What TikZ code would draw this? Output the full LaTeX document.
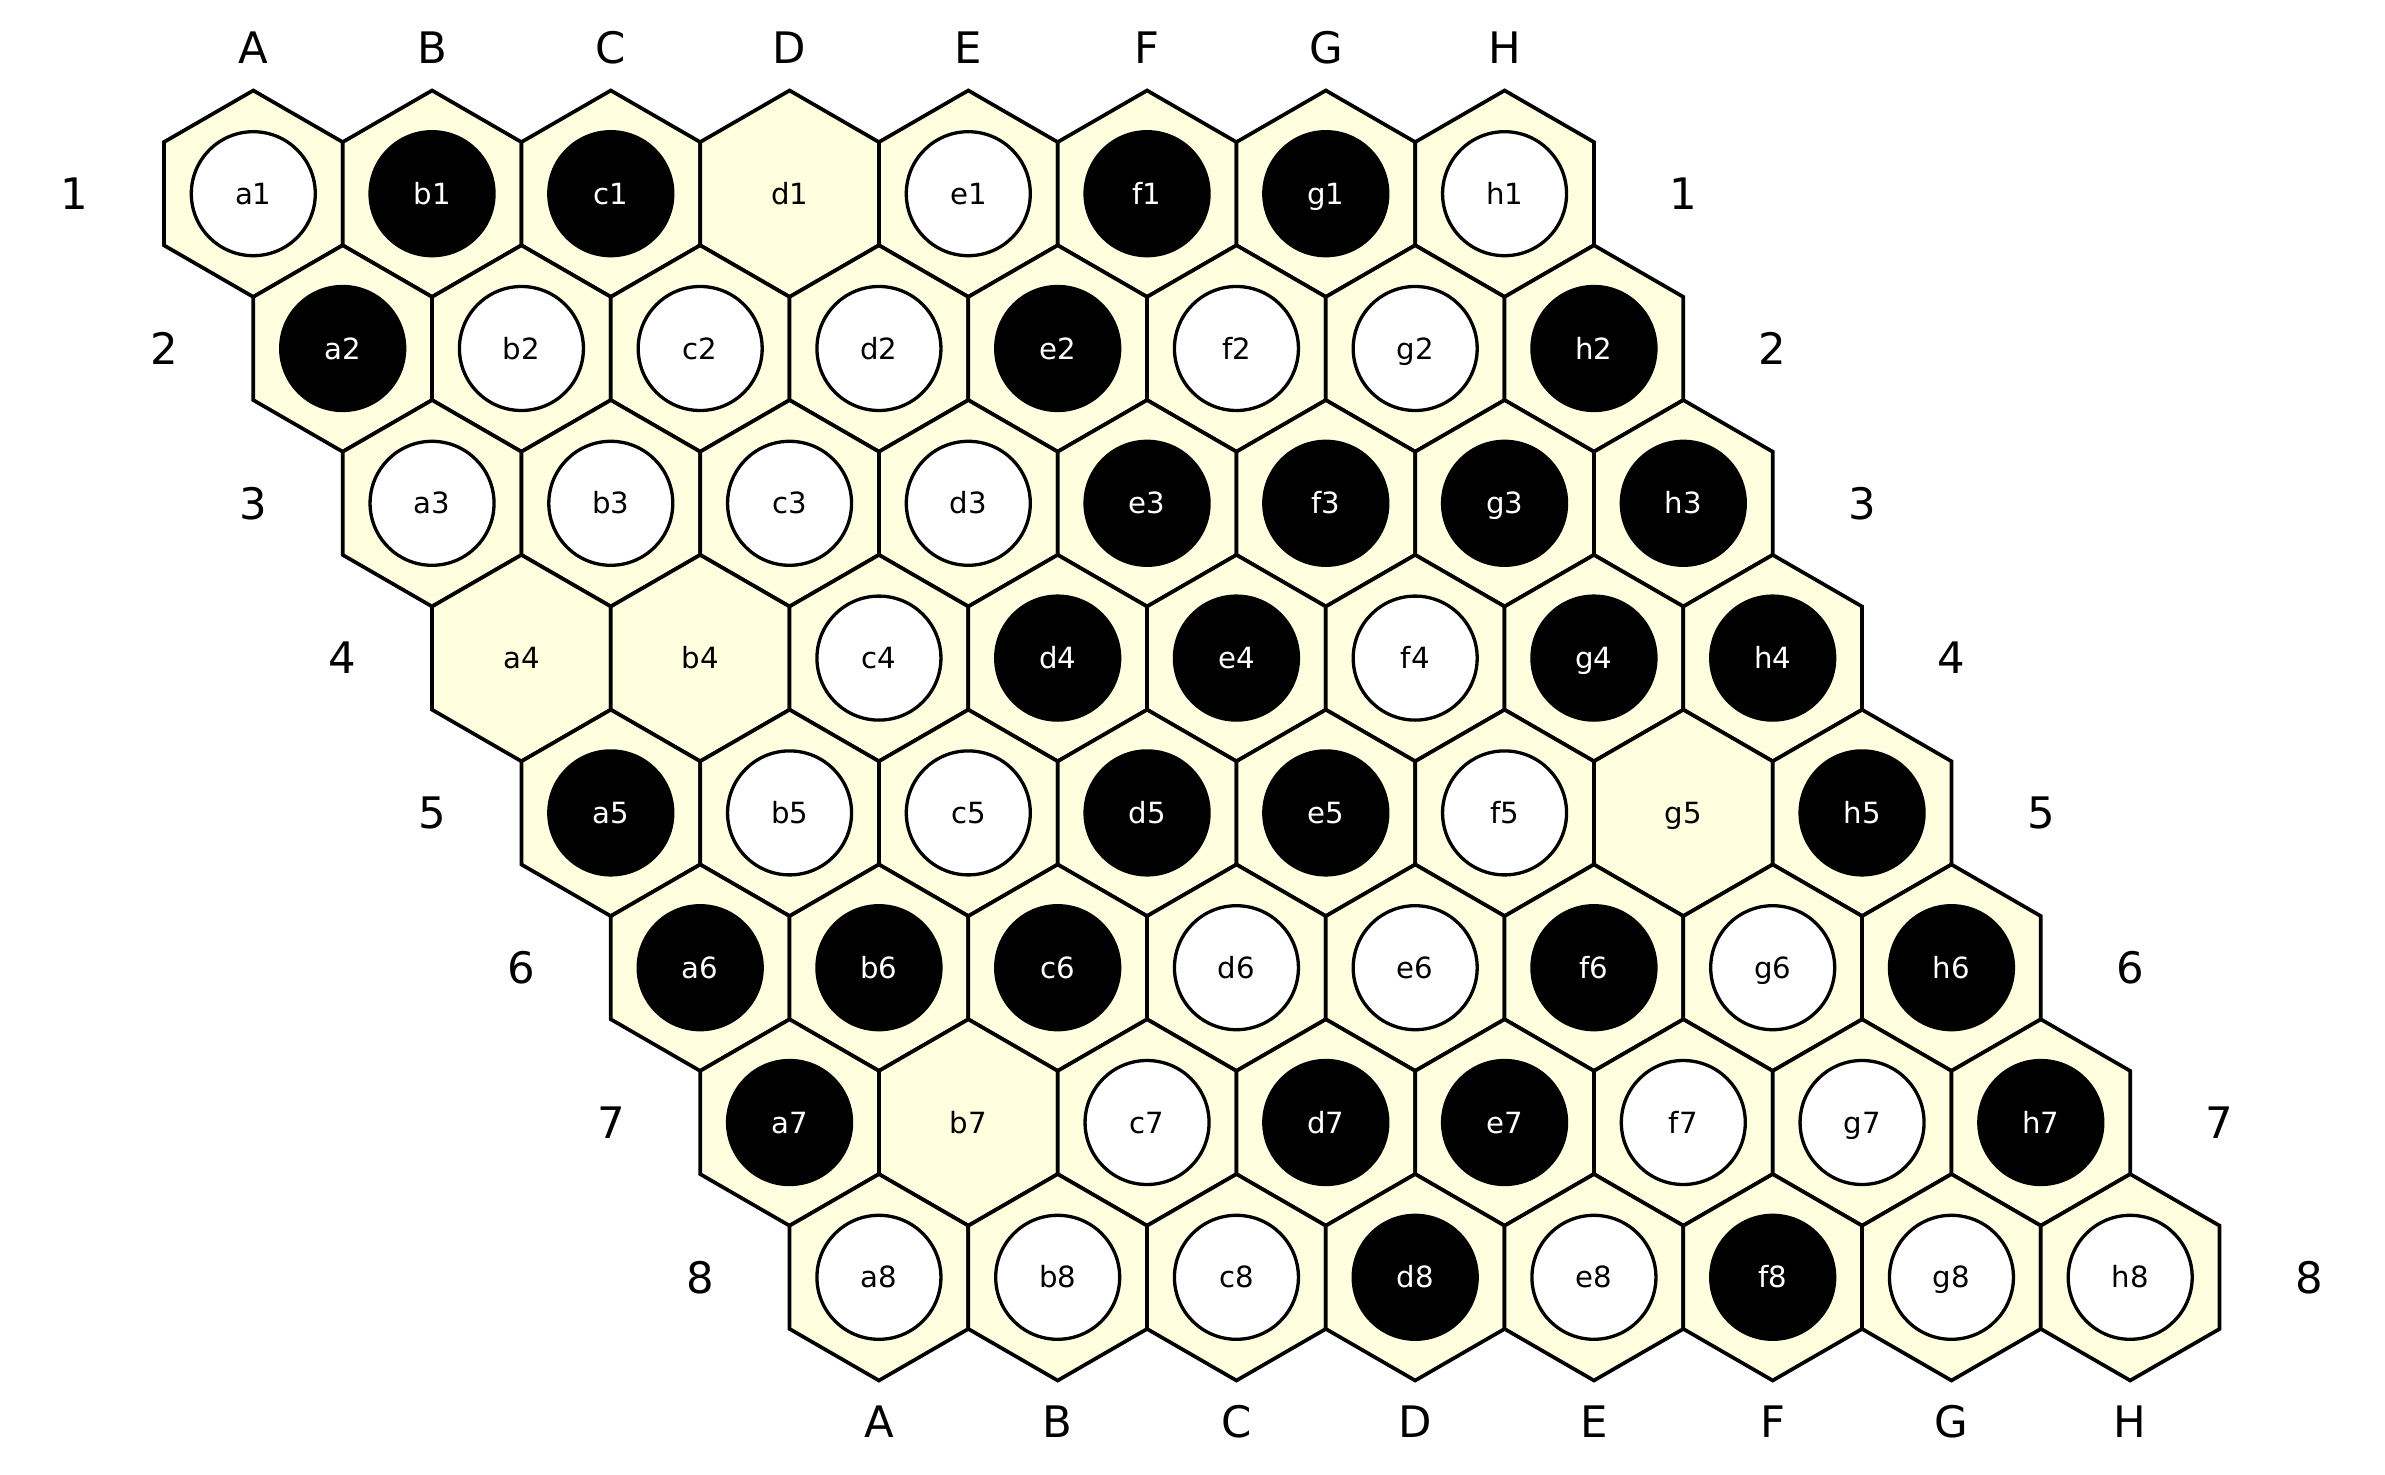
\documentclass[tikz,border=0pt]{standalone}
\usepackage{fontspec}
\setmainfont{DejaVu Sans}
\usetikzlibrary{shapes.geometric}
\definecolor{boardfill}{HTML}{FFFFE0}
\tikzset{
  hexcell/.style={regular polygon, regular polygon sides=6, regular polygon rotate=30,
    minimum size=103.2pt, inner sep=0pt, draw=black, line width=1.85pt, fill=boardfill},
  cellfont/.style={font=\fontsize{14.6}{16}\selectfont, text height=10.64pt, text depth=0pt},
  whitestone/.style={circle, minimum size=62pt, inner sep=0pt, draw=black,
    line width=1.65pt, fill=white, text=black, cellfont},
  blackstone/.style={circle, minimum size=62pt, inner sep=0pt, draw=black,
    line width=1.65pt, fill=black, text=white, cellfont},
  celllabel/.style={inner sep=0pt, text=black, cellfont},
  boardlabel/.style={inner sep=0pt, text=black, font=\fontsize{21.7}{24}\selectfont,
    text height=15.82pt, text depth=0pt}
}
\begin{document}
\begin{tikzpicture}[x=0.5pt, y=-0.5pt]
\useasboundingbox (0,0) rectangle (2385,1475);
\foreach \r/\row in {
  1/{a/W,b/B,c/B,d/E,e/W,f/B,g/B,h/W},
  2/{a/B,b/W,c/W,d/W,e/B,f/W,g/W,h/B},
  3/{a/W,b/W,c/W,d/W,e/B,f/B,g/B,h/B},
  4/{a/E,b/E,c/W,d/B,e/B,f/W,g/B,h/B},
  5/{a/B,b/W,c/W,d/B,e/B,f/W,g/E,h/B},
  6/{a/B,b/B,c/B,d/W,e/W,f/B,g/W,h/B},
  7/{a/B,b/E,c/W,d/B,e/B,f/W,g/W,h/B},
  8/{a/W,b/W,c/W,d/B,e/W,f/B,g/W,h/W}} {
  \foreach [count=\c] \l/\s in \row {
    \pgfmathsetmacro\xx{253.3+(\c-1)*178.75+(\r-1)*89.375}
    \pgfmathsetmacro\yy{193.7+(\r-1)*154.8}
    \node[hexcell] (hex-\l\r) at (\xx,\yy) {};
    \if B\s \node[blackstone] (st-\l\r) at (hex-\l\r.center) {\l\r};\fi
    \if W\s \node[whitestone] (st-\l\r) at (hex-\l\r.center) {\l\r};\fi
    \if E\s \node[celllabel] (lb-\l\r) at (hex-\l\r.center) {\l\r};\fi
  }
}
\foreach [count=\c] \L in {A,B,C,D,E,F,G,H} {
  \pgfmathsetmacro\xt{253.3+(\c-1)*178.75}
  \pgfmathsetmacro\xb{879+(\c-1)*178.75}
  \node[boardlabel] (top-\L) at (\xt,47.7) {\L};
  \node[boardlabel] (bot-\L) at (\xb,1422) {\L};
}
\foreach \r in {1,...,8} {
  \pgfmathsetmacro\yy{193.7+(\r-1)*154.8}
  \pgfmathsetmacro\xl{253.3-178.75+(\r-1)*89.375}
  \pgfmathsetmacro\xr{253.3+8*178.75+(\r-1)*89.375}
  \node[boardlabel] (left-\r) at (\xl,\yy) {\r};
  \node[boardlabel] (right-\r) at (\xr,\yy) {\r};
}
\end{tikzpicture}
\end{document}
